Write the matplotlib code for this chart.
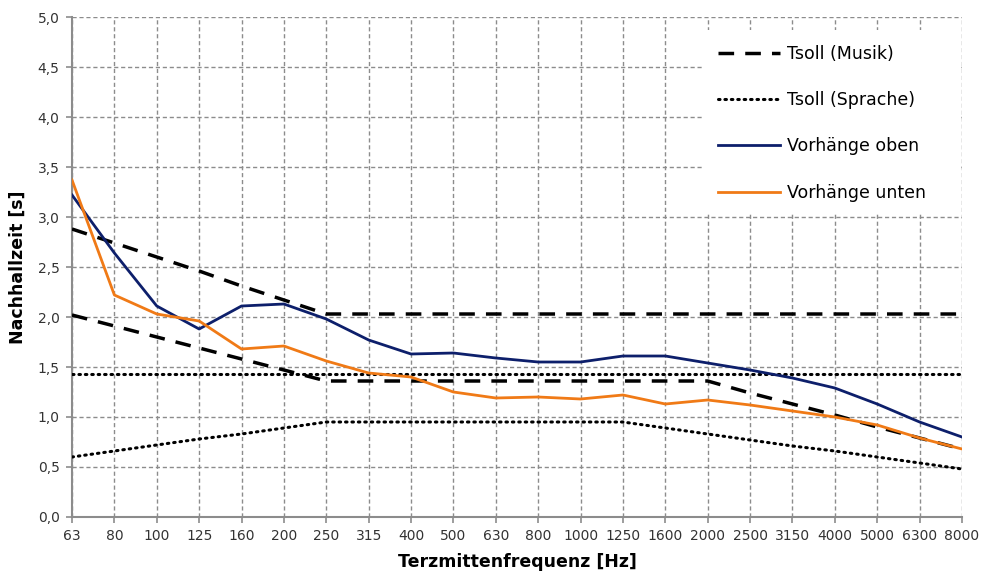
import matplotlib.pyplot as plt
from matplotlib.patches import Rectangle
from matplotlib.ticker import FuncFormatter

# Terzmittenfrequenzen
freqs = ['63', '80', '100', '125', '160', '200', '250', '315', '400', '500', '630',
         '800', '1000', '1250', '1600', '2000', '2500', '3150', '4000', '5000',
         '6300', '8000']

musik_oben = [2.88, 2.74, 2.60, 2.46, 2.31, 2.17, 2.03, 2.03, 2.03, 2.03, 2.03,
              2.03, 2.03, 2.03, 2.03, 2.03, 2.03, 2.03, 2.03, 2.03, 2.03, 2.03]
musik_unten = [2.02, 1.91, 1.80, 1.69, 1.58, 1.47, 1.36, 1.36, 1.36, 1.36, 1.36,
               1.36, 1.36, 1.36, 1.36, 1.36, 1.24, 1.13, 1.02, 0.90, 0.79, 0.68]
sprache_oben = [1.43] * 22
sprache_unten = [0.60, 0.66, 0.72, 0.78, 0.83, 0.89, 0.95, 0.95, 0.95, 0.95, 0.95,
                 0.95, 0.95, 0.95, 0.89, 0.83, 0.77, 0.71, 0.66, 0.60, 0.54, 0.48]
vorhaenge_oben = [3.22, 2.64, 2.11, 1.88, 2.11, 2.13, 1.98, 1.77, 1.63, 1.64, 1.59,
                  1.55, 1.55, 1.61, 1.61, 1.54, 1.47, 1.39, 1.29, 1.13, 0.95, 0.80]
vorhaenge_unten = [3.37, 2.22, 2.03, 1.96, 1.68, 1.71, 1.56, 1.44, 1.40, 1.25, 1.19,
                   1.20, 1.18, 1.22, 1.13, 1.17, 1.12, 1.06, 1.00, 0.92, 0.79, 0.68]

plt.rcParams['font.family'] = ['DejaVu Sans']

fig = plt.figure(figsize=(9.81, 5.77), dpi=100)
ax = fig.add_axes([0.0734, 0.104, 0.9072, 0.8665])

x = list(range(len(freqs)))
dash = (4.5, 3.2)
ax.plot(x, musik_oben, color='black', lw=2.5, dashes=dash, label='Tsoll (Musik)', zorder=3)
ax.plot(x, musik_unten, color='black', lw=2.5, dashes=dash, zorder=3)
ax.plot(x, sprache_oben, color='black', lw=2.2, linestyle=(0, (0.5, 1.6)),
        dash_capstyle='round', label='Tsoll (Sprache)', zorder=3)
ax.plot(x, sprache_unten, color='black', lw=2.2, linestyle=(0, (0.5, 1.6)),
        dash_capstyle='round', zorder=3)
ax.plot(x, vorhaenge_oben, color='#0d1f6b', lw=2.0, label='Vorhänge oben', zorder=4)
ax.plot(x, vorhaenge_unten, color='#f07a16', lw=2.0, label='Vorhänge unten', zorder=4)

ax.set_xlim(0, len(freqs) - 1)
ax.set_ylim(0, 5)
ax.set_xticks(x)
ax.set_xticklabels(freqs)
ax.set_yticks([i * 0.5 for i in range(11)])
ax.yaxis.set_major_formatter(FuncFormatter(lambda v, p: f'{v:.1f}'.replace('.', ',')))

ax.set_axisbelow(True)
ax.grid(True, color='#8c8c8c', linestyle=(0, (3, 2)), linewidth=1.0)
for s in ['top', 'right']:
    ax.spines[s].set_visible(False)
for s in ['left', 'bottom']:
    ax.spines[s].set_color('#8c8c8c')
    ax.spines[s].set_linewidth(1.5)
ax.tick_params(axis='both', colors='#8c8c8c', length=4, width=1.2, labelsize=10,
               labelcolor='#333333', pad=5)

ax.set_xlabel('Terzmittenfrequenz [Hz]', fontsize=12.5, fontweight='bold', labelpad=7)
ax.set_ylabel('Nachhallzeit [s]', fontsize=12.5, fontweight='bold', labelpad=8)

# weisser Legendenhintergrund
ax.add_patch(Rectangle((0.709, 0.608), 0.289, 0.366, transform=ax.transAxes,
                       facecolor='white', edgecolor='none', zorder=2))

leg = ax.legend(loc='upper left', bbox_to_anchor=(0.709, 0.974), fontsize=12.5,
                frameon=False, handlelength=3.6, handletextpad=0.4,
                labelspacing=1.63, borderpad=0.85, borderaxespad=0.0)
leg.set_zorder(5)

fig.savefig('out.png', dpi=100)
